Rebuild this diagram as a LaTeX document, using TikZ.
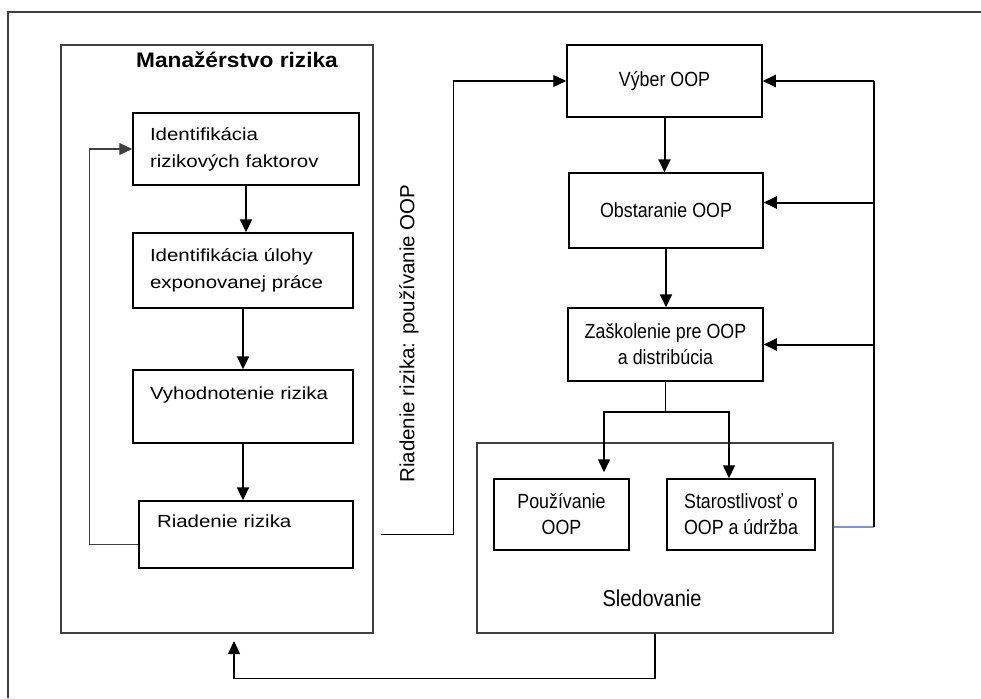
\documentclass[tikz,border=0pt]{standalone}
\usepackage{fontspec}
\setmainfont{Liberation Sans}
\newfontfamily\lfont{Liberation Sans}[FakeStretch=1.17]
\newfontfamily\rfont{Liberation Sans}[FakeStretch=0.87]
\newfontfamily\tfont{Liberation Sans}[FakeStretch=1.08]
\usetikzlibrary{arrows.meta}
\definecolor{edgeblue}{RGB}{120,150,215}
\tikzset{
  lbox/.style={draw, line width=1.5pt, align=left, inner xsep=17pt, inner ysep=0pt,
    font=\lfont\fontsize{17.5}{27}\selectfont},
  rbox/.style={draw, line width=1.5pt, align=center, inner sep=0pt,
    font=\rfont\fontsize{20.5}{26}\selectfont},
  outline/.style={draw=black!75, line width=1.2pt},
  flow/.style={-{Triangle[length=13pt,width=12pt]}, line width=2pt},
  conn/.style={line width=1.2pt}
}
\begin{document}
\begin{tikzpicture}[x=1pt, y=-1pt]
  \useasboundingbox (0,0) rectangle (981,698);
  \draw[outline] (8,698) |- (981,12);
  \node[outline, minimum width=312pt, minimum height=588pt] (mgmt) at (217,339) {};
  \node[anchor=base, font=\tfont\bfseries\fontsize{21}{25}\selectfont] (title) at (237,68)
    {Manažérstvo rizika};
  \node[lbox, text width=192pt, minimum height=72pt] (risk) at (246,149)
    {Identifikácia\\rizikových faktorov};
  \node[lbox, text width=186pt, minimum height=75pt] (task) at (243,270.5)
    {Identifikácia úlohy\\exponovanej práce};
  \node[lbox, text width=186pt, minimum height=73pt] (eval) at (243,406.5)
    {Vyhodnotenie rizika\\\mbox{}};
  \node[lbox, text width=178pt, inner xsep=18pt, minimum height=67pt] (ctrl) at (246,534.5)
    {Riadenie rizika\\\mbox{}};
  \draw[flow] (risk.south) -- (risk.south |- task.north);
  \draw[flow] (task.south) -- (eval.north);
  \draw[flow] (eval.south) -- (eval.south |- ctrl.north);
  \draw[flow, line width=1.2pt, draw=black!75] ([yshift=-10pt]ctrl.west) -- ++(-49,0) |- (risk.west);

  \node[rotate=90, font=\fontsize{20.5}{24}\selectfont] (lbl) at (409,333.5)
    {Riadenie rizika: používanie OOP};

  \node[rbox, minimum width=195pt, minimum height=72pt] (select) at (664.5,81) {Výber OOP};
  \node[rbox, minimum width=194pt, minimum height=75pt] (buy) at (666,210.5) {Obstaranie OOP};
  \node[rbox, minimum width=195pt, minimum height=73pt] (train) at (665.5,344.5)
    {Zaškolenie pre OOP\\a distribúcia};
  \node[outline, minimum width=356pt, minimum height=190pt] (watch) at (655,538) {};
  \node[anchor=base, font=\rfont\fontsize{23}{28}\selectfont] (watchlbl) at (652,606) {Sledovanie};
  \node[rbox, minimum width=135pt, minimum height=71pt] (use) at (561.5,514.5) {Používanie\\OOP};
  \node[rbox, minimum width=148pt, minimum height=71pt] (care) at (741,514.5)
    {Starostlivosť o\\OOP a údržba};
  \draw[flow, line width=1.2pt] ([xshift=7pt]mgmt.east |- ctrl.east) -- ++(73,0) |- (select.west);
  \draw[flow] (select.south) -- (select.south |- buy.north);
  \draw[flow] (buy.south) -- (buy.south |- train.north);
  \draw[conn] (train.south) -- ++(0,30) coordinate (split);
  \draw[flow, line width=1.6pt] (split) -| ([xshift=42.5pt, yshift=6pt]use.north);
  \draw[flow, line width=1.6pt] (split) -| ([xshift=-12pt]care.north);

  \coordinate (fb) at (874,527);
  \draw[conn, edgeblue] (watch.east |- fb) -- (fb);
  \draw[conn] (fb) -- (fb |- select.east);
  \draw[flow] (fb |- select.east) -- (select.east);
  \draw[flow] ([yshift=8pt]fb |- buy.east) -- ([yshift=8pt]buy.east);
  \draw[flow] (fb |- train.east) -- (train.east);

  \coordinate (back) at (234,641);
  \draw[flow, line width=1.5pt] (watch.south) -- ++(0,45) -| (back);
\end{tikzpicture}
\end{document}
